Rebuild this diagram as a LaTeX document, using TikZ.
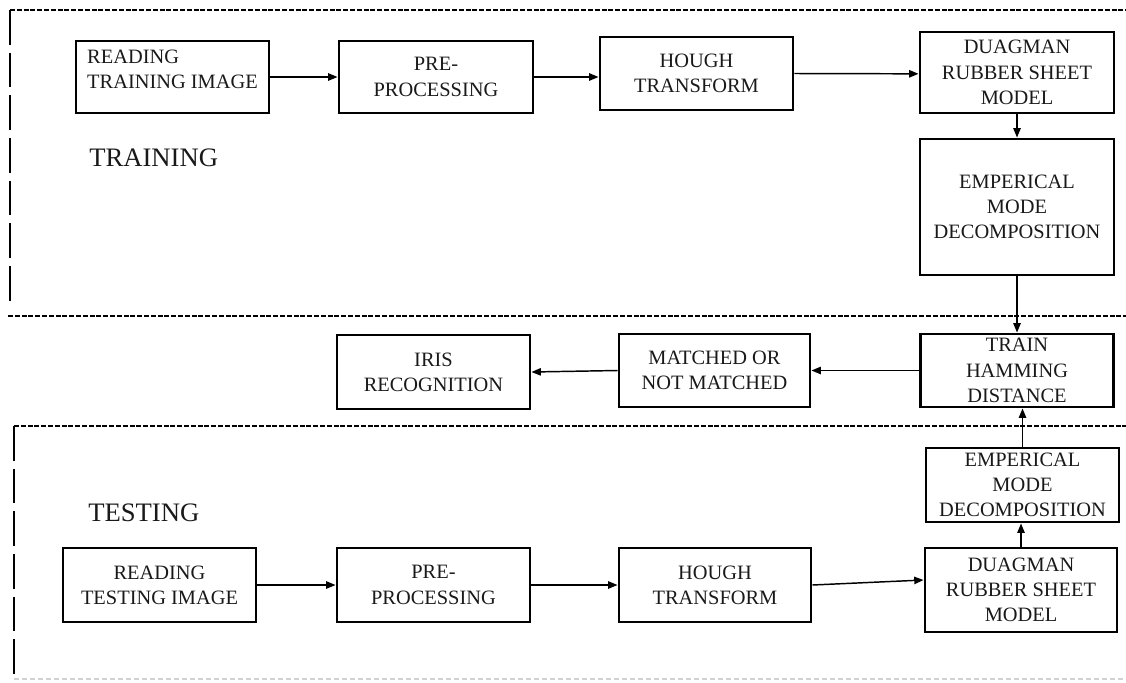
\documentclass[tikz,border=0pt]{standalone}
\usepackage{fontspec}
\setmainfont{Liberation Serif}
\usetikzlibrary{arrows.meta}
\begin{document}
\begin{tikzpicture}[x=0.75pt,y=-0.75pt,
  box/.style={draw=black, line width=2.2pt, align=center, inner sep=2pt,
    font=\fontsize{15.3}{18.9}\selectfont, text=black!90},
  arr/.style={line width=1.1pt, -{Triangle[length=7pt,width=5.5pt]}},
  hdash/.style={line width=2pt, dash pattern=on 3.8pt off 1.3pt},
  vdash/.style={line width=2pt, dash pattern=on 26pt off 6pt},
  lbl/.style={font=\fontsize{20}{24}\selectfont, anchor=west, inner sep=0pt, text=black!90}]
\useasboundingbox (0,0) rectangle (1126,682);
% frames
\draw[hdash] (10,10) -- (1126,10);
\draw[vdash] (10,10) -- (10,308);
\draw[hdash] (8,316) -- (1126,316);
\draw[hdash] (14,426) -- (1126,426);
\draw[vdash] (14,426) -- (14,682);
\draw[line width=1pt, black!18, dash pattern=on 4pt off 2pt] (14,679) -- (1126,679);
% labels
\node[lbl] (ltrain) at (89,158) {TRAINING};
\node[lbl] (ltest) at (88,513) {TESTING};
% training row
\node[box, minimum width=144.75pt, minimum height=54pt] (rt) at (172.5,77) {\raisebox{4.5pt}[\height][\depth]{\begin{tabular}{@{}l@{}}READING\\TRAINING IMAGE\end{tabular}}};
\node[box, minimum width=145.5pt, minimum height=54pt] (pt) at (436,77) {PRE-\\PROCESSING};
\node[box, minimum width=144.75pt, minimum height=54.75pt] (ht) at (696.5,73.5) {HOUGH\\TRANSFORM};
\node[box, minimum width=145.5pt, minimum height=60.75pt] (dt) at (1017,72.5) {DUAGMAN\\RUBBER SHEET\\MODEL};
\node[box, minimum width=145.5pt, minimum height=102pt] (et) at (1017,207) {EMPERICAL\\MODE\\DECOMPOSITION};
% middle row
\node[box, minimum width=144.75pt, minimum height=54.75pt] (th) at (1017,370.5) {TRAIN\\HAMMING\\DISTANCE};
\node[box, minimum width=143.25pt, minimum height=54.75pt] (mn) at (714.5,370.5) {MATCHED OR\\NOT MATCHED};
\node[box, minimum width=144.75pt, minimum height=55.5pt] (ir) at (433.5,372) {IRIS\\RECOGNITION};
% testing row
\node[box, minimum width=144.75pt, minimum height=55.5pt] (eb) at (1022.5,485) {EMPERICAL\\MODE\\DECOMPOSITION};
\node[box, minimum width=144pt, minimum height=63pt] (db) at (1021,590) {DUAGMAN\\RUBBER SHEET\\MODEL};
\node[box, minimum width=144.75pt, minimum height=55.5pt] (rs) at (159.5,585) {READING\\TESTING IMAGE};
\node[box, minimum width=144.75pt, minimum height=55.5pt] (pb) at (433.5,585) {PRE-\\PROCESSING};
\node[box, minimum width=144pt, minimum height=55.5pt] (hb) at (715,585) {HOUGH\\TRANSFORM};
% connectors
\draw[arr] (rt.east) -- (rt.east -| pt.west);
\draw[arr] (pt.east) -- (pt.east -| ht.west);
\draw[arr] (ht.east) -- ([yshift=-1pt]dt.west);
\draw[arr] (dt.south) -- (et.north);
\draw[arr] (et.south) -- (th.north);
\draw[arr] (th.west) -- (mn.east);
\draw[arr] (mn.west) -- (ir.east);
\draw[arr] (rs.east) -- (pb.west);
\draw[arr] (pb.east) -- (hb.west);
\draw[arr] (hb.east) -- ([yshift=7.5pt]db.west);
\draw[arr] (db.north) -- (db.north |- eb.south);
\draw[arr] (eb.north) -- (eb.north |- th.south);
\end{tikzpicture}
\end{document}
